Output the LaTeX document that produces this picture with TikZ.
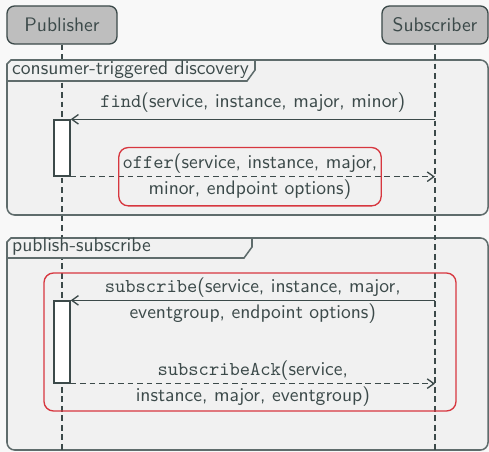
\documentclass[tikz,border=0pt]{standalone}
\usepackage{fontspec}
\usetikzlibrary{arrows.meta}

\definecolor{ink}{HTML}{3C4A4A}
\definecolor{edge}{HTML}{5F6C6C}
\definecolor{actorfill}{HTML}{BEBEBE}
\definecolor{bgfill}{HTML}{F8F8F8}
\definecolor{framefill}{HTML}{F1F1F1}
\definecolor{hired}{HTML}{D7373F}

\begin{document}
\begin{tikzpicture}[
    x=0.526pt, y=-0.526pt,
    font=\sffamily\fontsize{10.3}{13.7}\selectfont,
    every node/.style={text=ink},
    actor/.style={rectangle, rounded corners=4pt, draw=ink, fill=actorfill, line width=0.7pt, minimum width=57.9pt, minimum height=20pt},
    lifeline/.style={draw=ink, line width=0.8pt, dash pattern=on 3pt off 2pt},
    frame/.style={draw=edge, fill=framefill, line width=0.8pt, rounded corners=4pt},
    frametab/.style={draw=edge, fill=framefill, line width=0.8pt},
    framelabel/.style={anchor=west, inner sep=1.5pt},
    act/.style={rectangle, draw=ink, fill=white, line width=0.7pt, minimum width=8.4pt, inner sep=0pt},
    msg/.style={-{Straight Barb[length=3.5pt,width=5pt]}, draw=ink, line width=0.7pt},
    reply/.style={msg, dash pattern=on 3pt off 2pt},
    msglabel/.style={align=center},
    hilite/.style={draw=hired, solid, rounded corners=5pt, line width=0.7pt}
]
    \useasboundingbox (0,0) rectangle (489,452);
    \fill[bgfill] (0,0) rectangle (489,452);

    % Frames
    \draw[frame] (7,60) rectangle (488,215);
    \draw[frame] (7,238) rectangle (488,450);

    % Actors
    \node[actor] (pub) at (62,25) {Publisher};
    \node[actor, minimum width=55.8pt] (sub) at (435,25) {Subscriber};

    % Lifelines
    \draw[lifeline] (pub.south) -- ++(0,410);
    \draw[lifeline] (sub.south) -- ++(0,410);

    % Frame tabs
    \filldraw[frametab] (7,81) -- (247,81) -- (255,70) -- (255,60) -- (11,60) -- (7,64) -- cycle;
    \node[framelabel] (tab1) at (9,70) {consumer-triggered discovery};
    \filldraw[frametab] (7,258) -- (244,258) -- (252,247) -- (252,238) -- (11,238) -- (7,242) -- cycle;
    \node[framelabel] (tab2) at (9,247) {publish-subscribe};

    % Activations
    \node[act, minimum height=29.5pt] (act1) at (62,148) {};
    \node[act, minimum height=43.1pt] (act2) at (62,342) {};

    % Messages
    \draw[msg] (sub |- act1.north) -- (act1.north east)
        node[msglabel, midway, above] {\texttt{find}(service, instance, major, minor)};
    \draw[reply] (act1.south east) -- (sub |- act1.south)
        node[msglabel, hilite, midway, xshift=-1.5pt, inner xsep=2pt] (offer) {\texttt{offer}(service, instance, major,\\minor, endpoint options)};
    \draw[msg] (sub |- act2.north) -- (act2.north east)
        node[msglabel, midway] (subs) {\texttt{subscribe}(service, instance, major,\\eventgroup, endpoint options)};
    \draw[reply] (act2.south east) -- (sub |- act2.south)
        node[msglabel, midway] (ack) {\texttt{subscribeAck}(service,\\instance, major, eventgroup)};

    % Highlight
    \draw[hilite] (44,273) rectangle (456,411);

\end{tikzpicture}
\end{document}
